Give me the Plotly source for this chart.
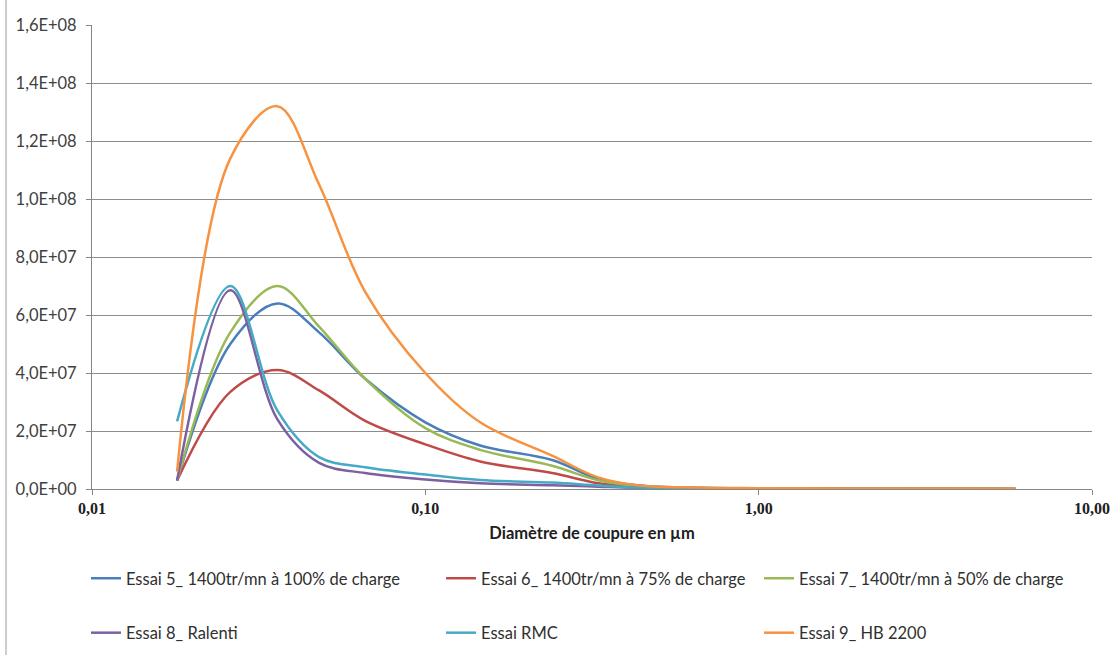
import plotly.graph_objects as go

# diametres de coupure (µm)
diametres = [0.018, 0.026, 0.036, 0.048, 0.066, 0.10, 0.146, 0.24, 0.33, 0.44, 0.67, 1.0, 1.9, 5.9]

essai5 = [2.9e6, 5.0e7, 6.4e7, 5.4e7, 3.8e7, 2.3e7, 1.5e7, 1.0e7, 3.5e6, 1.2e6, 4e5, 2e5, 1e5, 2e4]
essai6 = [2.9e6, 3.35e7, 4.1e7, 3.4e7, 2.35e7, 1.54e7, 9.5e6, 5.5e6, 2e6, 7e5, 3e5, 1.5e5, 8e4, 1e4]
essai7 = [2.9e6, 5.4e7, 7.0e7, 5.6e7, 3.8e7, 2.1e7, 1.35e7, 8e6, 3e6, 1e6, 3e5, 1.5e5, 8e4, 1e4]
essai8 = [2.9e6, 6.85e7, 2.4e7, 9e6, 5.5e6, 3.3e6, 2e6, 1.3e6, 8e5, 4e5, 2e5, 1e5, 5e4, 1e4]
essai_rmc = [2.33e7, 7.0e7, 2.7e7, 1.1e7, 7.5e6, 5e6, 3.1e6, 2.2e6, 1.2e6, 5e5, 2e5, 1e5, 5e4, 1e4]
essai9 = [6e6, 1.14e8, 1.32e8, 1.05e8, 6.8e7, 4.0e7, 2.3e7, 1.15e7, 4e6, 1.2e6, 5e5, 3e5, 1.5e5, 5e4]

noms = ["Essai 5_ 1400tr/mn à 100% de charge", "Essai 6_ 1400tr/mn à 75% de charge",
        "Essai 7_ 1400tr/mn à 50% de charge", "Essai 8_ Ralenti", "Essai RMC", "Essai 9_ HB 2200"]
series = [essai5, essai6, essai7, essai8, essai_rmc, essai9]
couleurs = ["#4A7EBB", "#BE4B48", "#98B954", "#7D60A0", "#46AAC5", "#F69240"]
# colonne de la légende pour chaque série
legendes = ["legend", "legend2", "legend3", "legend", "legend2", "legend3"]

y_ticks = [0, 2e7, 4e7, 6e7, 8e7, 1e8, 1.2e8, 1.4e8, 1.6e8]
y_labels = ["0,0E+00", "2,0E+07", "4,0E+07", "6,0E+07", "8,0E+07", "1,0E+08", "1,2E+08", "1,4E+08", "1,6E+08"]
x_ticks = [0.01, 0.1, 1, 10]
x_labels = ["0,01", "0,10", "1,00", "10,00"]

fig = go.Figure()
for i in range(len(series)):
    fig.add_trace(go.Scatter(x=diametres, y=series[i], name=noms[i], mode="lines",
                             line=dict(color=couleurs[i], width=2.5, shape="spline", smoothing=1.0),
                             legend=legendes[i], legendgroup="g%d" % i))

leg = dict(orientation="v", xref="container", yref="container", yanchor="top", xanchor="left",
           bgcolor="rgba(0,0,0,0)", tracegroupgap=30,
           font=dict(family="Lato, Liberation Sans, sans-serif", size=16.5, color="#303030"))

fig.update_layout(
    width=1118, height=655,
    margin=dict(l=92, r=26, t=25, b=166, autoexpand=False),
    paper_bgcolor="white", plot_bgcolor="white",
    showlegend=True,
    legend=dict(leg, x=0.0769, y=0.1435),
    legend2=dict(leg, x=0.3945, y=0.1435),
    legend3=dict(leg, x=0.6789, y=0.1435),
    xaxis=dict(type="log", range=[-2, 1], tickvals=x_ticks, ticktext=x_labels,
               showgrid=False, showline=True, linecolor="#868686", linewidth=1,
               ticks="outside", ticklen=5, tickcolor="#868686",
               tickfont=dict(family="Liberation Serif, serif", size=16, color="#202020", weight="bold"),
               title=dict(text="<b>Diamètre de coupure en µm</b>", standoff=11,
                          font=dict(family="Lato, Liberation Sans, sans-serif", size=16.5, color="#202020"))),
    yaxis=dict(range=[0, 1.6e8], tickvals=y_ticks, ticktext=y_labels,
               showgrid=True, gridcolor="#8c8c8c", gridwidth=1, zeroline=False,
               showline=True, linecolor="#868686", linewidth=1,
               ticks="outside", ticklen=5, tickcolor="#868686", ticklabelstandoff=6,
               tickfont=dict(family="Lato, Liberation Sans, sans-serif", size=16.5, color="#404040")),
    shapes=[dict(type="line", xref="paper", yref="paper", x0=-0.086, x1=-0.086, y0=-0.36, y1=1.06,
                 line=dict(color="#9a9a9a", width=1))],
)

fig.write_html("out.html", config={"displayModeBar": False},
               post_script="document.body.style.margin='0px';")
